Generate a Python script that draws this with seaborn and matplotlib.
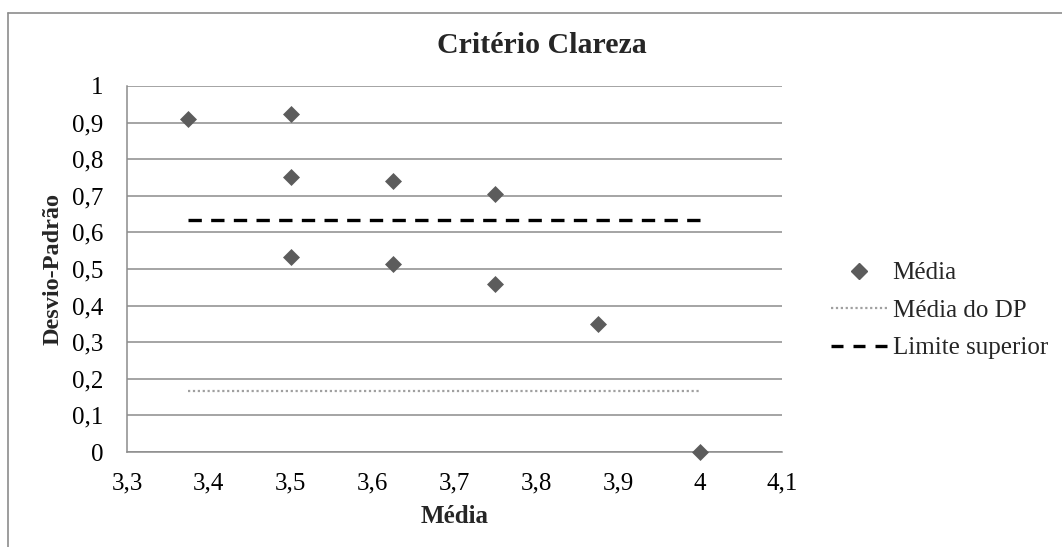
import matplotlib
matplotlib.use("Agg")
import matplotlib.pyplot as plt
import pandas as pd
import seaborn as sns
from matplotlib.ticker import FuncFormatter, MultipleLocator
from matplotlib.lines import Line2D

# Dados
media = [3.375, 3.5, 3.5, 3.5, 3.625, 3.625, 3.75, 3.75, 3.875, 4.0]
desvio = [0.911, 0.924, 0.752, 0.533, 0.740, 0.513, 0.704, 0.460, 0.350, 0.0]
x_linhas = [3.375, 4.0]
media_dp = [0.168, 0.168]
limite_sup = [0.633, 0.633]

df = pd.DataFrame({"media": media, "desvio": desvio})
linhas = pd.DataFrame({"x": x_linhas, "dp": media_dp, "lim": limite_sup})

sns.set_style("white")
plt.rcParams['font.family'] = 'serif'
plt.rcParams['font.serif'] = ['Liberation Serif', 'Times New Roman', 'DejaVu Serif']

fig = plt.figure(figsize=(10.62, 5.47), dpi=100)
ax = fig.add_axes([0.1196, 0.1736, 0.6168, 0.6692])

cinza = "#5c5c5c"
pontilhado = (0, (1, 1.2))
tracejado = (0, (4, 2.8))
sns.lineplot(data=linhas, x="x", y="dp", ax=ax, color="#a0a0a0", lw=1.6,
             linestyle=pontilhado, legend=False)
sns.lineplot(data=linhas, x="x", y="lim", ax=ax, color="black", lw=2.4,
             linestyle=tracejado, legend=False)
sns.scatterplot(data=df, x="media", y="desvio", ax=ax, marker="D", s=75,
                color=cinza, edgecolor=cinza, linewidth=0, zorder=5, legend=False,
                clip_on=False)

ax.set_xlim(3.3, 4.1)
ax.set_ylim(0, 1)
ax.xaxis.set_major_locator(MultipleLocator(0.1))
ax.yaxis.set_major_locator(MultipleLocator(0.1))

def virgula(v, pos):
    return f"{round(v, 2):g}".replace(".", ",")

ax.xaxis.set_major_formatter(FuncFormatter(virgula))
ax.yaxis.set_major_formatter(FuncFormatter(virgula))
ax.tick_params(axis="both", labelsize=18, length=0, colors="black")
ax.tick_params(axis="x", pad=15)
ax.tick_params(axis="y", pad=17)

ax.yaxis.grid(True, color="#8c8c8c", lw=1.1)
ax.xaxis.grid(False)
for lado in ["top", "right"]:
    ax.spines[lado].set_visible(False)
for lado in ["left", "bottom"]:
    ax.spines[lado].set_color("#8c8c8c")
    ax.spines[lado].set_linewidth(1.1)

ax.set_xlabel("Média", fontsize=18, fontweight="bold", labelpad=7)
ax.set_ylabel("Desvio-Padrão", fontsize=17.5, fontweight="bold", labelpad=6)
fig.text(0.510, 0.916, "Critério Clareza", fontsize=21.5, fontweight="bold",
         ha="center", va="center")

handles = [
    Line2D([], [], marker="D", color=cinza, linestyle="none", markersize=8.5),
    Line2D([], [], color="#a0a0a0", lw=1.6, linestyle=pontilhado),
    Line2D([], [], color="black", lw=2.4, linestyle=(0, (3.6, 3.0))),
]
fig.legend(handles, ["Média", "Média do DP", "Limite superior"], loc="center left",
           bbox_to_anchor=(0.761, 0.432), frameon=False, fontsize=18,
           handlelength=2.28, handletextpad=0.2, labelspacing=0.6)

# borda do gráfico
fig.add_artist(Line2D([0.0075, 0.0075], [0, 0.976], color="#8c8c8c", lw=1.2))
fig.add_artist(Line2D([0.0075, 1], [0.976, 0.976], color="#8c8c8c", lw=1.2))

fig.savefig("out.png", dpi=100)
